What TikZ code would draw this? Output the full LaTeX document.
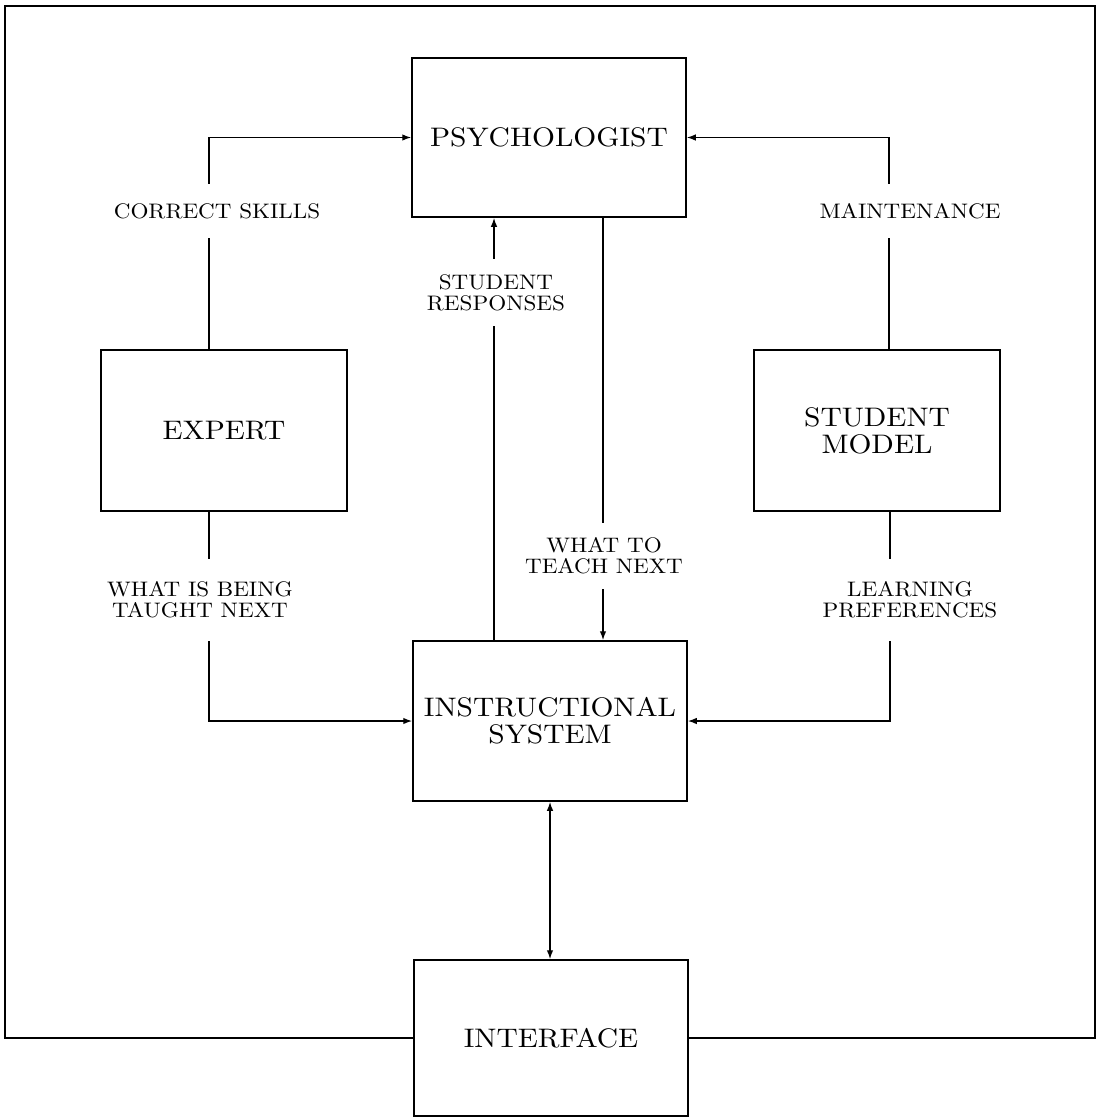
\documentclass[tikz,border=0pt]{standalone}
\usepackage{fontspec}
\setmainfont{lmroman10-regular.otf}[FakeStretch=1.1]
\usetikzlibrary{arrows.meta}
\newcommand\bxfont{\fontsize{26.8}{27}\selectfont}
\newcommand\lbfont{\fontsize{21}{21}\selectfont}
\begin{document}
\begin{tikzpicture}[x=1pt,y=-1pt,
  box/.style n args={2}{draw, line width=1.5pt, minimum width=#1, minimum height=#2,
    inner sep=0pt, align=center, font=\bxfont},
  lbl/.style={fill=white, inner xsep=4pt, inner ysep=#1, align=center, font=\lbfont},
  conn/.style={line width=1.4pt},
  tip/.tip={Latex[length=9pt,width=6.5pt]},
  frame/.style={line width=2pt, line join=miter}]
\useasboundingbox (0,0) rectangle (1096,1119);

% components
\node[box={274pt}{159pt}] (psy) at (549,137.5) {PSYCHOLOGIST};
\node[box={246pt}{161pt}] (exp) at (224,430.5) {EXPERT};
\node[box={246pt}{161pt}] (stm) at (877,430.5) {STUDENT\\MODEL};
\node[box={274pt}{160pt}] (ins) at (550,721) {INSTRUCTIONAL\\SYSTEM};
\node[box={274pt}{156pt}] (itf) at (551,1038) {INTERFACE};

% outer loop through the interface
\draw[frame] (itf.west) -- (5,1038) -- (5,6) -- (1095,6) -- (1095,1038) -- (itf.east);

% vertical runs of the middle connectors
\coordinate (srx) at (494,0);
\coordinate (wtx) at (603,0);

% connectors
\draw[conn,-tip] ([xshift=-15pt]exp.north) |- (psy.west);
\draw[conn,-tip] ([xshift=12pt]stm.north) |- (psy.east);
\draw[conn,-tip] ([xshift=-15pt]exp.south) |- (ins.west);
\draw[conn,-tip] ([xshift=13pt]stm.south) |- (ins.east);
\draw[conn,-tip] (srx |- ins.north) -- (srx |- psy.south);
\draw[conn,-tip] (wtx |- psy.south) -- (wtx |- ins.north);
\draw[conn,tip-tip] (ins.south) -- (ins.south |- itf.north);

% connector labels
\node[lbl=19.3pt] (cs) at (217,211) {CORRECT SKILLS};
\node[lbl=19.3pt] (mt) at (910,211) {MAINTENANCE};
\node[lbl=15.3pt] (sr) at (496,292.5) {STUDENT\\RESPONSES};
\node[lbl=14.8pt] (wt) at (604,556) {WHAT TO\\TEACH NEXT};
\node[lbl=22.8pt] (wb) at (200,600) {WHAT IS BEING\\TAUGHT NEXT};
\node[lbl=22.8pt] (lp) at (910,600) {LEARNING\\PREFERENCES};
\end{tikzpicture}
\end{document}
